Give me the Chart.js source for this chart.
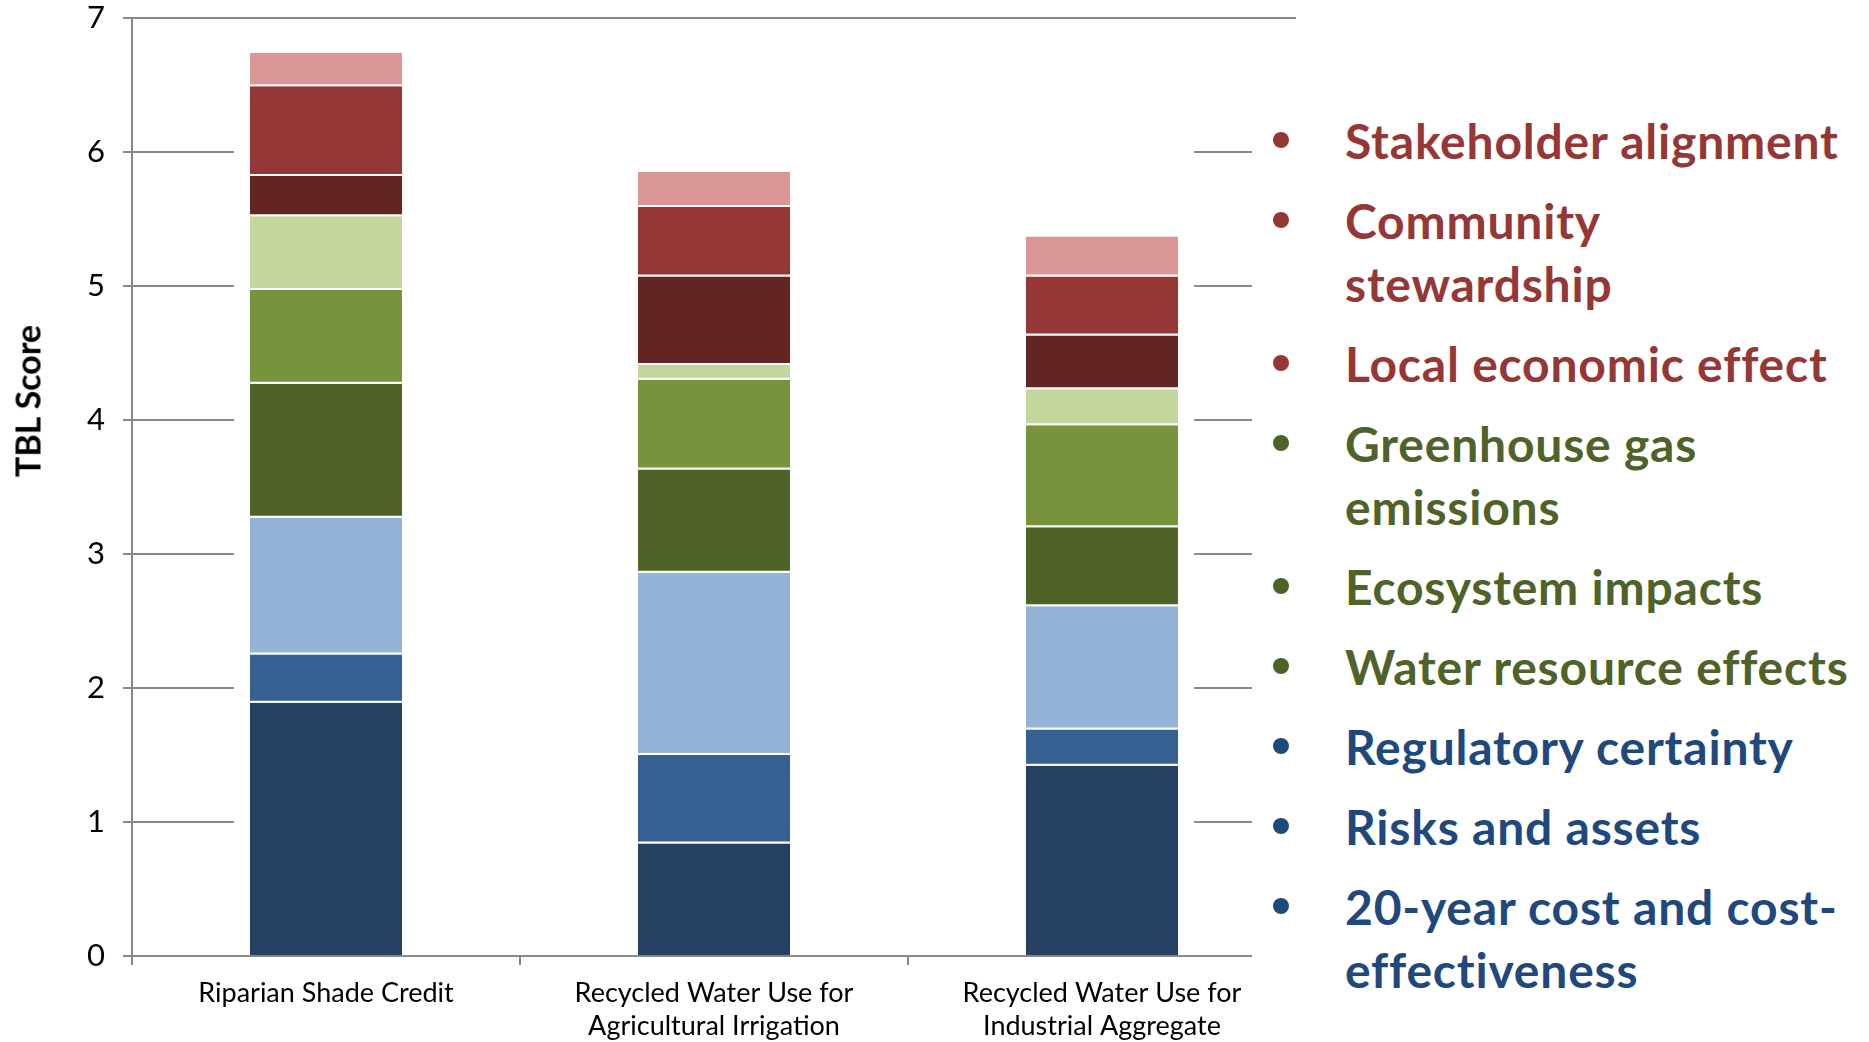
<!DOCTYPE html>
<html>
<head>
<meta charset="utf-8">
<script src="https://cdn.jsdelivr.net/npm/chart.js@4.4.0/dist/chart.umd.min.js"></script>
<style>
  body { margin: 0; background: #fff; }
  #wrap { position: relative; width: 1869px; height: 1042px; overflow: hidden; }
  #ytitle {
    position: absolute; left: 27px; top: 401px;
    transform: translate(-50%, -50%) rotate(-90deg);
    font: bold 34px Lato; color: #000; white-space: nowrap;
  }
  #legend {
    position: absolute; left: 1252px; top: 26px; width: 617px; bottom: 0;
    background: #fff; padding-top: 83px; box-sizing: border-box;
    font-family: Lato; font-weight: bold;
  }
  .item { position: relative; padding-left: 93px; margin-bottom: 17px; line-height: 63px; font-size: 48px; letter-spacing: 0.8px; white-space: nowrap; }
  .item::before {
    content: ''; position: absolute; left: 21px; top: 23px;
    width: 16px; height: 16px; border-radius: 50%; background: currentColor;
  }
</style>
</head>
<body>
<div id="wrap">
  <canvas id="chart" width="1869" height="1042"></canvas>
  <div id="ytitle">TBL Score</div>
  <div id="legend"></div>
</div>
<script>
const categories = [
  'Riparian Shade Credit',
  ['Recycled Water Use for', 'Agricultural Irrigation'],
  ['Recycled Water Use for', 'Industrial Aggregate']
];

// stack order, bottom to top
const costEffectiveness   = [1.89, 0.84, 1.42];
const risksAssets         = [0.36, 0.66, 0.27];
const regulatoryCertainty = [1.02, 1.36, 0.92];
const waterResource       = [1.00, 0.77, 0.59];
const ecosystem           = [0.70, 0.67, 0.76];
const greenhouse          = [0.55, 0.11, 0.27];
const localEconomic       = [0.30, 0.66, 0.40];
const community           = [0.67, 0.52, 0.44];
const stakeholder         = [0.25, 0.26, 0.30];

const yTicks = [0, 1, 2, 3, 4, 5, 6, 7];

const seriesNames = [
  '20-year cost and cost-effectiveness', 'Risks and assets', 'Regulatory certainty',
  'Water resource effects', 'Ecosystem impacts', 'Greenhouse gas emissions',
  'Local economic effect', 'Community stewardship', 'Stakeholder alignment'
];
const seriesData = [costEffectiveness, risksAssets, regulatoryCertainty, waterResource,
  ecosystem, greenhouse, localEconomic, community, stakeholder];
const seriesColors = ['#254061', '#376092', '#95B3D7', '#4F6228', '#77933C', '#C3D69B',
  '#632523', '#953735', '#D99694'];

// legend text as shown, top to bottom
const legendLines = [
  ['Stakeholder alignment'], ['Community', 'stewardship'], ['Local economic effect'],
  ['Greenhouse gas', 'emissions'], ['Ecosystem impacts'], ['Water resource effects'],
  ['Regulatory certainty'], ['Risks and assets'], ['20-year cost and cost-', 'effectiveness']
];
const legendColors = ['#953735', '#953735', '#953735', '#4F6228', '#4F6228', '#4F6228',
  '#1F497D', '#1F497D', '#1F497D'];

const legend = document.getElementById('legend');
legendLines.forEach((lines, i) => {
  const d = document.createElement('div');
  d.className = 'item';
  d.style.color = legendColors[i];
  d.innerHTML = lines.join('<br>');
  legend.appendChild(d);
});

// Excel-style: gridlines hidden behind the bar region
const maskPlugin = {
  id: 'mask',
  beforeDatasetsDraw(chart) {
    const bars = chart.getDatasetMeta(0).data;
    const first = bars[0], last = bars[bars.length - 1];
    const { ctx, chartArea } = chart;
    const x0 = first.x - first.width / 2 - 15;
    const x1 = last.x + last.width / 2 + 15;
    ctx.save();
    ctx.fillStyle = '#fff';
    ctx.fillRect(x0, chartArea.top + 3, x1 - x0, chartArea.bottom - chartArea.top - 5);
    ctx.restore();
  }
};

new Chart(document.getElementById('chart'), {
  type: 'bar',
  data: {
    labels: categories,
    datasets: seriesData.map((d, i) => ({
      label: seriesNames[i],
      data: d,
      backgroundColor: seriesColors[i],
      borderColor: '#fff',
      borderWidth: { top: 0, left: 1, right: 1, bottom: i === 0 ? 0 : 2 },
      borderSkipped: false,
      categoryPercentage: 1,
      barPercentage: 0.397
    }))
  },
  options: {
    responsive: false,
    animation: false,
    layout: { padding: { top: 0, right: 573, left: 0, bottom: 0 } },
    plugins: { legend: { display: false }, tooltip: { enabled: false } },
    scales: {
      x: {
        stacked: true,
        grid: { drawOnChartArea: false, tickLength: 9, color: '#888', lineWidth: 2 },
        border: { color: '#888', width: 2 },
        ticks: { color: '#000', font: { family: 'Lato', size: 27, lineHeight: 1.22 }, padding: 12, maxRotation: 0 },
        afterFit: s => { s.height = 86; }
      },
      y: {
        stacked: true,
        min: 0,
        max: 7,
        afterBuildTicks: s => { s.ticks = yTicks.map(v => ({ value: v })); },
        ticks: { color: '#000', font: { family: 'Lato', size: 31 }, padding: 18 },
        grid: { color: '#888', lineWidth: 2, tickLength: 9 },
        border: { color: '#888', width: 2 },
        afterFit: s => { s.width = 132; s.paddingTop = 18; s.paddingBottom = 0; }
      }
    }
  },
  plugins: [maskPlugin]
});
</script>
</body>
</html>
